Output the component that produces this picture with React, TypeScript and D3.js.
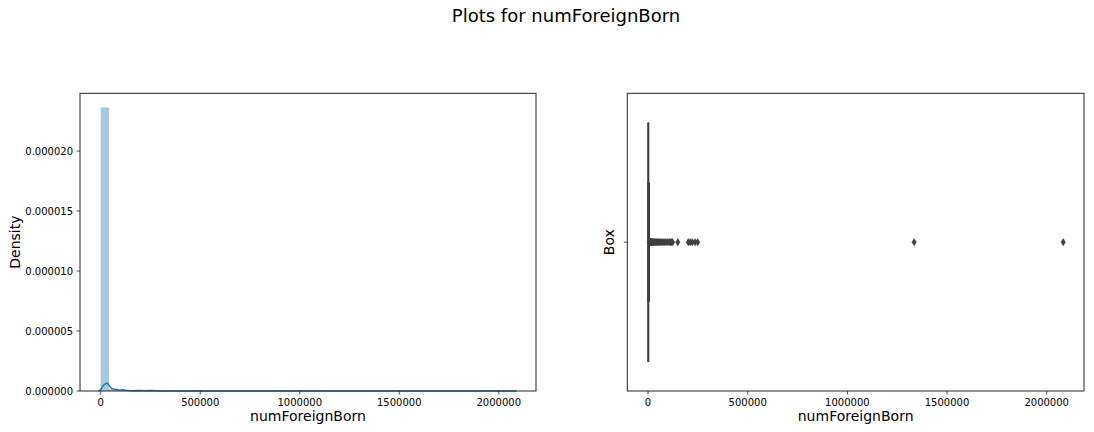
import React from "react";
import * as d3 from "d3";

// ---------- data ----------
const title = "Plots for numForeignBorn";
const xLabel = "numForeignBorn";
const dataMin = 0;
const dataMax = 2083000;
const binCount = 50;
// histogram counts per bin (50 equal bins from dataMin to dataMax)
const histCounts = [
  2175, 16, 7, 3, 2, 4, 0, 0, 0, 0,
  0, 0, 0, 0, 0, 0, 0, 0, 0, 0,
  0, 0, 0, 0, 0, 0, 0, 0, 0, 0,
  0, 0, 1, 0, 0, 0, 0, 0, 0, 0,
  0, 0, 0, 0, 0, 0, 0, 0, 0, 1,
];
// KDE curve: [x value, density]
const kdeX = [-12000, 0, 12000, 25000, 35000, 45000, 55000, 65000, 80000, 95000, 110000, 125000, 140000, 160000, 190000, 220000, 250000, 300000, 400000, 1300000, 1335000, 1370000, 2090000];
const kdeY = [0, 1.2e-7, 4.5e-7, 6.2e-7, 6.4e-7, 4.0e-7, 2.0e-7, 1.6e-7, 1.2e-7, 0.7e-7, 1.1e-7, 0.6e-7, 0.4e-7, 0.3e-7, 0.45e-7, 0.3e-7, 0.35e-7, 0.05e-7, 0.01e-7, 0.01e-7, 0.08e-7, 0.01e-7, 0];
const yTicks = [0, 0.000005, 0.00001, 0.000015, 0.00002];
const xTicks = [0, 500000, 1000000, 1500000, 2000000];
// boxplot statistics
const boxQ1 = 300;
const boxMedian = 900;
const boxQ3 = 2600;
const whiskerLow = 0;
const whiskerHigh = 6200;
const outliers = [
  7000, 8000, 9000, 10000, 11500, 13000, 14500, 16000, 18000, 20000, 22000, 25000,
  28000, 31000, 35000, 39000, 43000, 48000, 53000, 58000, 64000, 70000, 76000,
  83000, 90000, 98000, 106000, 112000, 118000, 123000, 149000,
  202000, 212000, 222000, 236000, 249000, 1335000, 2083000,
];

const FONT = "DejaVu Sans, sans-serif";
const AX = "#262626";

export default function App() {
  const top = 93.3;
  const bottom = 391;
  const L = { x0: 80, x1: 536 };
  const R = { x0: 627.3, x1: 1084 };
  const span = dataMax - dataMin;
  const xDomain: [number, number] = [dataMin - span * 0.05, dataMax + span * 0.05];

  const xl = d3.scaleLinear().domain(xDomain).range([L.x0, L.x1]);
  const xr = d3.scaleLinear().domain(xDomain).range([R.x0, R.x1]);

  const total = d3.sum(histCounts);
  const binW = span / binCount;
  const dens = histCounts.map((c) => c / total / binW);
  const yMax = (d3.max(dens) as number) * 1.05;
  const yl = d3.scaleLinear().domain([0, yMax]).range([bottom, top]);
  const yr = d3.scaleLinear().domain([-0.5, 0.5]).range([bottom, top]);

  const kdeLine = d3
    .line<number>()
    .x((_, i) => xl(kdeX[i]))
    .y((d) => yl(d))(kdeY) as string;

  const fmtY = d3.format(".6f");
  const fmtX = d3.format("d");

  const boxTop = yr(0.4);
  const boxBot = yr(-0.4);
  const capTop = yr(0.2);
  const capBot = yr(-0.2);
  const yc = yr(0);
  const boxColor = "#3f3f3f";

  return (
    <div style={{ position: "absolute", left: 0, top: 0 }}>
      <svg width={1094} height={432} style={{ display: "block", background: "#fff" }} fontFamily={FONT}>
        <text x={566} y={21.5} fontSize={18} textAnchor="middle" fill="#000">
          {title}
        </text>

        {/* ---------- left: histogram + kde ---------- */}
        <g>
          {dens.map((d, i) => {
            const x0 = xl(dataMin + i * binW);
            const x1 = xl(dataMin + (i + 1) * binW);
            const h = bottom - yl(d);
            if (d <= 0) return null;
            return (
              <rect key={i} x={x0} y={yl(d)} width={x1 - x0} height={h} fill="#1f77b4" fillOpacity={0.4} />
            );
          })}
          <path d={kdeLine} fill="none" stroke="#1f77b4" strokeWidth={1.5} strokeLinejoin="round" />
          <rect x={L.x0} y={top} width={L.x1 - L.x0} height={bottom - top} fill="none" stroke={AX} strokeWidth={1} />
          {yTicks.map((t) => (
            <g key={t}>
              <line x1={L.x0 - 3.5} x2={L.x0} y1={yl(t)} y2={yl(t)} stroke={AX} strokeWidth={0.8} />
              <text x={L.x0 - 7} y={yl(t)} dy="0.35em" fontSize={10} textAnchor="end" fill="#000">
                {fmtY(t)}
              </text>
            </g>
          ))}
          {xTicks.map((t) => (
            <g key={t}>
              <line x1={xl(t)} x2={xl(t)} y1={bottom} y2={bottom + 3.5} stroke={AX} strokeWidth={0.8} />
              <text x={xl(t)} y={bottom + 14.5} fontSize={10} textAnchor="middle" fill="#000">
                {fmtX(t)}
              </text>
            </g>
          ))}
          <text x={(L.x0 + L.x1) / 2} y={421} fontSize={14} textAnchor="middle" fill="#000">
            {xLabel}
          </text>
          <text transform={`translate(20,${(top + bottom) / 2}) rotate(-90)`} fontSize={14} textAnchor="middle" fill="#000">
            Density
          </text>
        </g>

        {/* ---------- right: boxplot ---------- */}
        <g>
          <rect x={R.x0} y={top} width={R.x1 - R.x0} height={bottom - top} fill="none" stroke={AX} strokeWidth={1} />
          <line x1={xr(whiskerLow)} x2={xr(boxQ1)} y1={yc} y2={yc} stroke={boxColor} strokeWidth={1.5} />
          <line x1={xr(boxQ3)} x2={xr(whiskerHigh)} y1={yc} y2={yc} stroke={boxColor} strokeWidth={1.5} />
          <line x1={xr(whiskerLow)} x2={xr(whiskerLow)} y1={capTop} y2={capBot} stroke={boxColor} strokeWidth={1.5} />
          <line x1={xr(whiskerHigh)} x2={xr(whiskerHigh)} y1={capTop} y2={capBot} stroke={boxColor} strokeWidth={1.5} />
          <rect x={xr(boxQ1)} y={boxTop} width={xr(boxQ3) - xr(boxQ1)} height={boxBot - boxTop} fill="#3274a1" stroke={boxColor} strokeWidth={1.5} />
          <line x1={xr(boxMedian)} x2={xr(boxMedian)} y1={boxTop} y2={boxBot} stroke={boxColor} strokeWidth={1.5} />
          {outliers.map((v, i) => {
            const cx = xr(v);
            return (
              <path
                key={i}
                d={`M${cx},${yc - 3.6}L${cx + 2.2},${yc}L${cx},${yc + 3.6}L${cx - 2.2},${yc}Z`}
                fill={boxColor}
                stroke={boxColor}
                strokeWidth={0.5}
              />
            );
          })}
          <line x1={R.x0 - 3.5} x2={R.x0} y1={yc} y2={yc} stroke={AX} strokeWidth={0.8} />
          {xTicks.map((t) => (
            <g key={t}>
              <line x1={xr(t)} x2={xr(t)} y1={bottom} y2={bottom + 3.5} stroke={AX} strokeWidth={0.8} />
              <text x={xr(t)} y={bottom + 14.5} fontSize={10} textAnchor="middle" fill="#000">
                {fmtX(t)}
              </text>
            </g>
          ))}
          <text x={(R.x0 + R.x1) / 2} y={421} fontSize={14} textAnchor="middle" fill="#000">
            {xLabel}
          </text>
          <text transform={`translate(614,${(top + bottom) / 2}) rotate(-90)`} fontSize={14} textAnchor="middle" fill="#000">
            Box
          </text>
        </g>
      </svg>
    </div>
  );
}
